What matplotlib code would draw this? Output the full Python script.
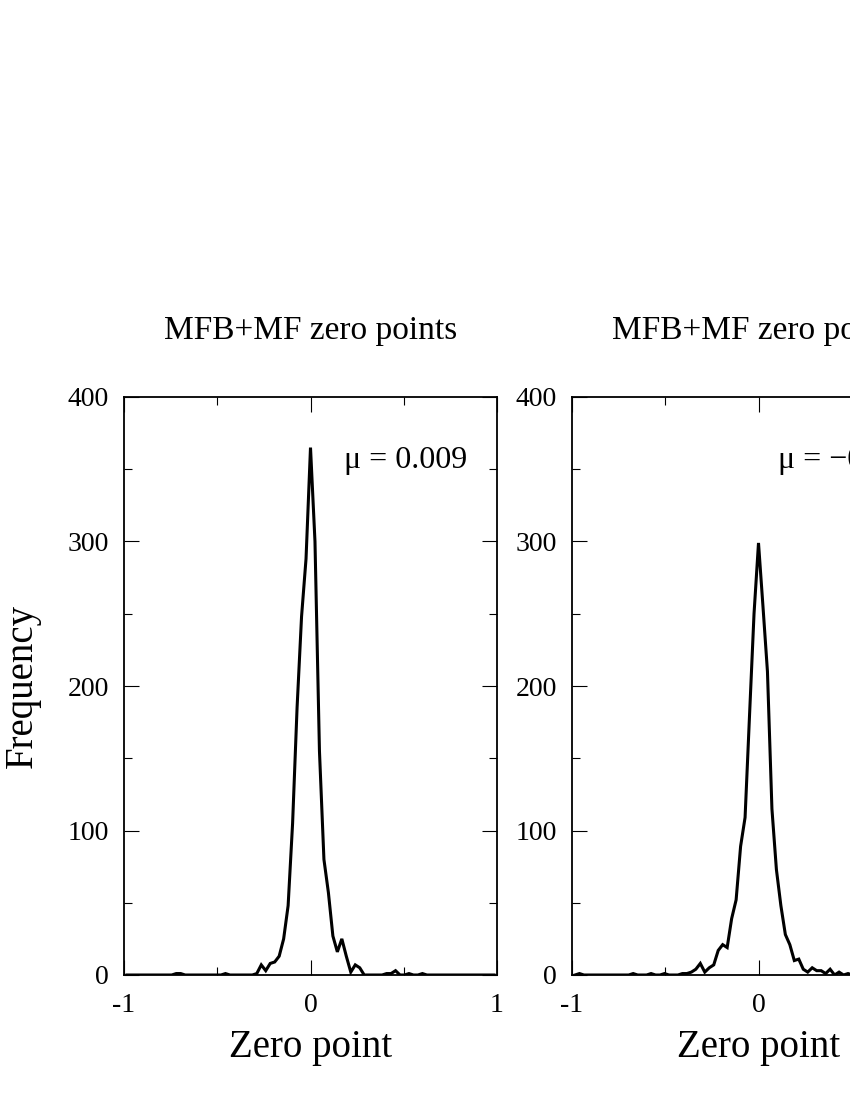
import numpy as np
import matplotlib
matplotlib.use("Agg")
import matplotlib.pyplot as plt
from matplotlib.ticker import MultipleLocator

plt.rcParams['font.family'] = ['Liberation Serif', 'DejaVu Serif']

# bin centres (step 0.024) and histogram counts
bin_index = np.arange(-41, 42)
zero_point = np.round(bin_index * 0.024, 3)

counts_left = [0]*11 + [1, 1] + [0]*9 + [1] + [0]*6 + \
    [1, 7, 3, 8, 9, 13, 25, 48, 105, 185, 248, 288] + [365] + \
    [300, 155, 80, 57, 27, 16, 25, 13, 2, 7, 5, 0] + [0]*4 + \
    [1, 1, 3, 0, 0, 1, 0, 0, 1] + [0]*16

counts_right = [0, 1] + [0]*11 + [1] + [0]*3 + [1] + [0]*2 + [1] + [0]*3 + \
    [1, 1, 2, 4, 8, 2, 5, 7, 17, 21, 19, 39, 52, 89, 109, 180, 250] + [299] + \
    [255, 210, 115, 73, 48, 28, 21, 10, 11, 4, 2, 5, 3, 3, 1, 4, 0, 2, 0, 1] + [0]*21

titles = ["MFB+MF zero points", "MFB+MF zero points"]
mu_labels = ["\u03bc = 0.009", "\u03bc = \u22120.007"]
mu_xpos = [0.18, 0.105]
xtick_vals = [-1, 0, 1]
xtick_labels = ["-1", "0", "1"]
ytick_vals = [0, 100, 200, 300, 400]

W, H = 850, 1100
fig = plt.figure(figsize=(8.5, 11), dpi=100)

panels = [(124, counts_left), (572, counts_right)]
for i, (left_px, counts) in enumerate(panels):
    ax = fig.add_axes([left_px / W, 1 - 975 / H, 373 / W, 578 / H])
    ax.plot(zero_point, counts, color='black', lw=2.2, solid_joinstyle='miter')
    ax.set_xlim(-1, 1)
    ax.set_ylim(0, 400)
    ax.set_xticks(xtick_vals)
    ax.set_xticklabels(xtick_labels)
    ax.xaxis.set_minor_locator(MultipleLocator(0.5))
    ax.set_yticks(ytick_vals)
    ax.yaxis.set_minor_locator(MultipleLocator(50))
    ax.tick_params(which='both', direction='in', top=True, right=True,
                   width=0.8, labelsize=20)
    ax.tick_params(which='major', length=11)
    ax.tick_params(axis='x', which='major', pad=13)
    ax.tick_params(axis='y', which='major', pad=11)
    ax.tick_params(which='minor', length=6)
    for s in ax.spines.values():
        s.set_linewidth(1.3)
    ax.text(mu_xpos[i], 351, mu_labels[i], fontsize=23, ha='left',
            va='baseline', clip_on=False)
    cx = (left_px + 186.5) / W
    fig.text(cx, 1 - 331 / H, titles[i], fontsize=24, ha='center', va='center')
    fig.text(cx, 1 - 1047 / H, "Zero point", fontsize=28, ha='center', va='center')

fig.text(22 / W, 1 - 686 / H, "Frequency", fontsize=28, rotation=90,
         ha='center', va='center')

fig.savefig("out.png", dpi=100)
